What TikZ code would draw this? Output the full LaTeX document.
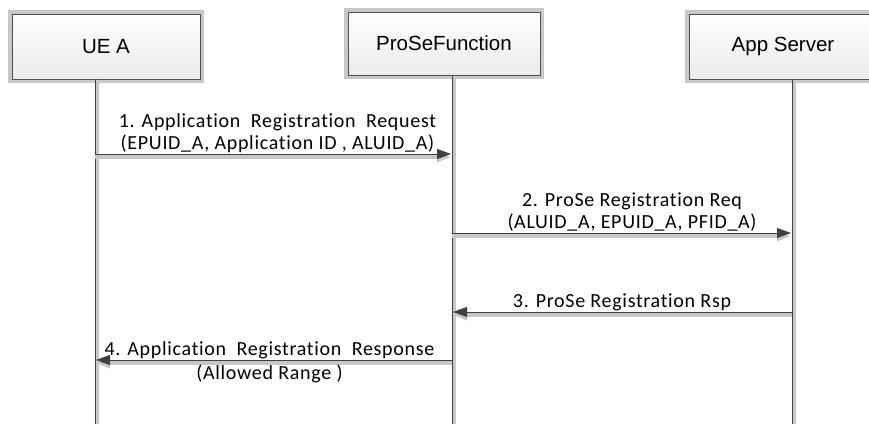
\documentclass[tikz,border=0pt]{standalone}
\usepackage{fontspec}
\setmainfont{Carlito}[LetterSpace=3.5,Ligatures=NoCommon]
\newfontfamily\headfont{Liberation Sans}
\usetikzlibrary{arrows.meta}
\definecolor{linegray}{HTML}{404040}
\definecolor{boxline}{HTML}{505050}
\definecolor{shadegray}{HTML}{C8C8C8}

\begin{document}
\begin{tikzpicture}[line cap=butt,line join=miter,x=1pt,y=-1pt,
  >={Triangle[length=14pt,width=10pt]},
  entity/.style={draw=boxline,line width=1pt,top color=white,bottom color=black!8,
    minimum width=188pt,minimum height=65pt,inner sep=0pt,
    font=\headfont\fontsize{20.5}{24}\selectfont,
    preaction={draw=shadegray,line width=8pt}},
  lifeline/.style={draw=linegray,line width=1pt},
  lifeshade/.style={draw=shadegray,line width=3pt},
  msg/.style={draw=linegray,line width=1pt,->,shorten >=1pt},
  msgshade/.style={draw=shadegray,fill=shadegray,line width=4pt,->,shorten >=1pt},
  msgtext/.style={font=\fontsize{20}{22}\selectfont,align=center,inner sep=1pt}]
\useasboundingbox (0,0) rectangle (869,423);

\node[entity] (ueA) at (106,46.5) {UE A};
\node[entity,minimum width=192pt,minimum height=63pt] (proseFn) at (444,43.5) {ProSeFunction};
\node[entity] (appSrv) at (783,46.5) {App Server};

\coordinate (ueEnd) at (95,426);
\coordinate (pfEnd) at (452,426);
\coordinate (asEnd) at (792,426);
\draw[lifeshade] ([xshift=2.5pt]ueA.south -| ueEnd) -- ([xshift=2.5pt]ueEnd);
\draw[lifeshade] ([xshift=2.5pt]proseFn.south -| pfEnd) -- ([xshift=2.5pt]pfEnd);
\draw[lifeshade] ([xshift=2.5pt]appSrv.south -| asEnd) -- ([xshift=2.5pt]asEnd);
\draw[lifeline] (ueA.south -| ueEnd) -- (ueEnd);
\draw[lifeline] (proseFn.south -| pfEnd) -- (pfEnd);
\draw[lifeline] (appSrv.south -| asEnd) -- (asEnd);

\coordinate (ueM1) at (95,154);
\coordinate (pfM1) at (452,154);
\coordinate (pfM2) at (452,233);
\coordinate (asM2) at (792,233);
\coordinate (asM3) at (792,312);
\coordinate (pfM3) at (452,312);
\coordinate (pfM4) at (452,360);
\coordinate (ueM4) at (95,360);

\draw[msgshade] ([yshift=-3pt]ueM1) -- ([yshift=-3pt]pfM1);
\draw[msgshade] ([yshift=-3pt]pfM2) -- ([yshift=-3pt]asM2);
\draw[msgshade] ([yshift=-3pt]asM3) -- ([yshift=-3pt]pfM3);
\draw[msgshade] ([yshift=-3pt]pfM4) -- ([yshift=-3pt]ueM4);

\draw[msg] (ueM1) -- (pfM1)
  node[midway,above,msgtext,xshift=4pt] {1. Application \ Registration \ Request\\(EPUID\_A, Application ID , ALUID\_A)};
\draw[msg] (pfM2) -- (asM2)
  node[midway,above,msgtext,xshift=10pt] {2. ProSe Registration Req\\(ALUID\_A, EPUID\_A, PFID\_A)};
\draw[msg] (asM3) -- (pfM3)
  node[midway,above,msgtext] {3. ProSe Registration Rsp};
\draw[msg] (pfM4) -- (ueM4)
  node[midway,above,msgtext,xshift=-4pt] {4. Application \ Registration \ Response}
  node[midway,below,msgtext,xshift=-4pt,yshift=-3pt] {(Allowed Range )};
\end{tikzpicture}
\end{document}
